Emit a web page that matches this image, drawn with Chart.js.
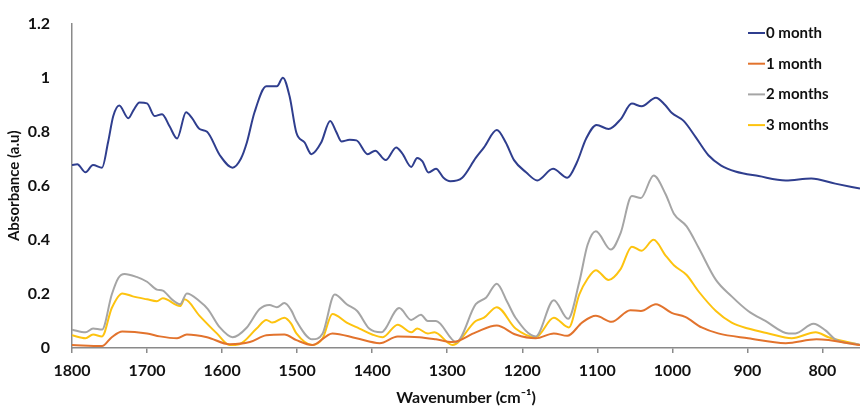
<!DOCTYPE html>
<html>
<head>
<meta charset="utf-8">
<script src="https://cdn.jsdelivr.net/npm/chart.js@4.4.1/dist/chart.umd.min.js"></script>
<style>
  html, body { margin: 0; padding: 0; background: #fff; }
  #wrap { width: 860px; height: 410px; }
</style>
</head>
<body>
<div id="wrap"><canvas id="ftirChart"></canvas></div>
<script>
// FTIR spectra (wavenumber cm-1, absorbance)
const seriesNames = ['0 month', '1 month', '2 months', '3 months'];
const seriesColors = ['#2f3e8e', '#e2732d', '#a5a5a5', '#fdc30f'];

const month0Wn = [1800, 1793, 1782, 1772, 1760, 1752, 1745, 1737, 1725, 1718, 1710, 1700, 1690, 1680, 1670, 1660, 1648, 1640, 1630, 1620, 1603, 1586, 1575, 1567, 1557, 1541, 1527, 1519, 1510, 1501, 1490, 1481, 1468, 1456, 1448, 1441, 1430, 1421, 1406, 1396, 1382, 1368, 1360, 1348, 1340, 1333, 1325, 1315, 1305, 1296, 1280, 1262, 1251, 1234, 1222, 1211, 1195, 1180, 1159, 1140, 1127, 1115, 1101, 1085, 1069, 1054, 1041, 1022, 1010, 1001, 985, 969, 952, 935, 916, 885, 849, 815, 783, 750];
const month0Abs = [0.677, 0.68, 0.65, 0.677, 0.667, 0.76, 0.858, 0.897, 0.85, 0.88, 0.908, 0.905, 0.858, 0.865, 0.82, 0.775, 0.872, 0.85, 0.81, 0.80, 0.713, 0.667, 0.70, 0.76, 0.87, 0.968, 0.968, 1.0, 0.93, 0.796, 0.76, 0.717, 0.76, 0.84, 0.80, 0.764, 0.77, 0.768, 0.717, 0.73, 0.695, 0.742, 0.72, 0.67, 0.703, 0.69, 0.649, 0.663, 0.63, 0.617, 0.63, 0.703, 0.742, 0.806, 0.76, 0.695, 0.65, 0.62, 0.663, 0.63, 0.688, 0.774, 0.825, 0.81, 0.846, 0.904, 0.894, 0.926, 0.90, 0.87, 0.84, 0.78, 0.713, 0.675, 0.653, 0.636, 0.62, 0.627, 0.608, 0.59];

const month1Wn = [1800, 1760, 1747, 1733, 1700, 1683, 1660, 1647, 1620, 1590, 1563, 1541, 1517, 1501, 1480, 1453, 1421, 1390, 1366, 1337, 1315, 1293, 1262, 1234, 1209, 1182, 1158, 1140, 1120, 1102, 1081, 1056, 1042, 1022, 1001, 983, 961, 939, 899, 849, 808, 750];
const month1Abs = [0.011, 0.007, 0.04, 0.061, 0.054, 0.043, 0.036, 0.05, 0.04, 0.014, 0.022, 0.047, 0.05, 0.029, 0.011, 0.054, 0.036, 0.018, 0.043, 0.04, 0.032, 0.022, 0.058, 0.083, 0.05, 0.036, 0.054, 0.045, 0.095, 0.119, 0.097, 0.14, 0.137, 0.162, 0.13, 0.115, 0.076, 0.054, 0.036, 0.018, 0.032, 0.011];

const month2Wn = [1800, 1782, 1772, 1760, 1747, 1738, 1730, 1714, 1700, 1687, 1679, 1667, 1656, 1647, 1630, 1619, 1603, 1586, 1567, 1550, 1537, 1527, 1517, 1508, 1501, 1480, 1466, 1450, 1434, 1420, 1404, 1388, 1364, 1348, 1335, 1326, 1315, 1288, 1262, 1248, 1234, 1220, 1209, 1182, 1158, 1139, 1124, 1113, 1102, 1082, 1069, 1054, 1042, 1025, 1009, 998, 981, 965, 942, 921, 899, 876, 845, 836, 812, 796, 783, 750];
const month2Abs = [0.068, 0.058, 0.072, 0.068, 0.198, 0.26, 0.274, 0.263, 0.245, 0.216, 0.212, 0.18, 0.162, 0.202, 0.173, 0.144, 0.076, 0.04, 0.076, 0.144, 0.159, 0.151, 0.166, 0.14, 0.1, 0.032, 0.054, 0.198, 0.162, 0.137, 0.072, 0.058, 0.148, 0.104, 0.123, 0.1, 0.1, 0.022, 0.162, 0.187, 0.238, 0.17, 0.112, 0.043, 0.177, 0.108, 0.245, 0.382, 0.432, 0.364, 0.425, 0.562, 0.555, 0.638, 0.569, 0.497, 0.45, 0.371, 0.252, 0.191, 0.137, 0.1, 0.054, 0.054, 0.09, 0.065, 0.032, 0.012];

const month3Wn = [1800, 1782, 1772, 1760, 1747, 1733, 1719, 1700, 1687, 1679, 1656, 1650, 1630, 1607, 1590, 1577, 1554, 1541, 1533, 1517, 1508, 1501, 1480, 1466, 1453, 1434, 1417, 1400, 1386, 1366, 1348, 1340, 1326, 1317, 1293, 1262, 1251, 1234, 1209, 1182, 1158, 1138, 1124, 1113, 1102, 1085, 1069, 1054, 1041, 1025, 1009, 998, 981, 965, 942, 921, 899, 872, 841, 809, 792, 750];
const month3Abs = [0.047, 0.036, 0.05, 0.043, 0.148, 0.202, 0.191, 0.18, 0.173, 0.184, 0.155, 0.18, 0.119, 0.054, 0.011, 0.014, 0.072, 0.104, 0.094, 0.112, 0.09, 0.054, 0.011, 0.036, 0.126, 0.094, 0.072, 0.05, 0.04, 0.086, 0.058, 0.072, 0.054, 0.058, 0.011, 0.1, 0.112, 0.151, 0.072, 0.04, 0.112, 0.076, 0.198, 0.256, 0.288, 0.252, 0.292, 0.375, 0.36, 0.40, 0.342, 0.306, 0.27, 0.209, 0.137, 0.094, 0.072, 0.054, 0.036, 0.058, 0.04, 0.011];

const xTicks = [1800, 1700, 1600, 1500, 1400, 1300, 1200, 1100, 1000, 900, 800];
const yTicks = [0, 0.2, 0.4, 0.6, 0.8, 1, 1.2];

const allWn = [month0Wn, month1Wn, month2Wn, month3Wn];
const allAbs = [month0Abs, month1Abs, month2Abs, month3Abs];

const FONT = 'Lato, "Open Sans", sans-serif';

// legend drawn inside the plot, top right, like the original figure
const insideLegend = {
    id: 'insideLegend',
    afterDraw(chart) {
        const ctx = chart.ctx;
        ctx.save();
        ctx.font = 'bold 15px ' + FONT;
        ctx.textBaseline = 'middle';
        ctx.textAlign = 'left';
        chart.data.datasets.forEach((ds, i) => {
            const y = 33 + i * 30.7;
            ctx.strokeStyle = ds.borderColor;
            ctx.lineWidth = 2;
            ctx.beginPath();
            ctx.moveTo(748, y);
            ctx.lineTo(765, y);
            ctx.stroke();
            ctx.fillStyle = '#111';
            ctx.fillText(ds.label, 766, y);
        });
        ctx.restore();
    }
};

const ctx = document.getElementById('ftirChart').getContext('2d');
new Chart(ctx, {
    type: 'line',
    data: {
        datasets: seriesNames.map((name, i) => ({
            label: name,
            data: allWn[i].map((w, k) => ({ x: w, y: allAbs[i][k] })),
            borderColor: seriesColors[i],
            backgroundColor: seriesColors[i],
            borderWidth: 2,
            pointRadius: 0,
            fill: false,
            cubicInterpolationMode: 'monotone'
        }))
    },
    options: {
        responsive: true,
        maintainAspectRatio: false,
        animation: false,
        layout: { padding: { top: 15, right: 0, left: 0, bottom: 0 } },
        plugins: {
            legend: { display: false },
            tooltip: { enabled: false }
        },
        scales: {
            x: {
                type: 'linear',
                reverse: true,
                min: 750,
                max: 1800,
                afterBuildTicks: (scale) => { scale.ticks = xTicks.map(v => ({ value: v })); },
                afterFit: (scale) => { scale.height = 62; },
                grid: { display: true, drawOnChartArea: false, drawTicks: true, tickLength: 5, color: '#8a8a8a', lineWidth: 1.5 },
                border: { display: true, color: '#8a8a8a', width: 1.5 },
                ticks: {
                    color: '#111', padding: 8, maxRotation: 0,
                    font: { family: FONT, size: 16, weight: 'bold' },
                    callback: (v) => String(v)
                },
                title: {
                    display: true,
                    text: 'Wavenumber (cm⁻¹)',
                    color: '#111',
                    padding: { top: 0, bottom: 3 },
                    font: { family: FONT, size: 16, weight: 'bold' }
                }
            },
            y: {
                min: 0,
                max: 1.2,
                afterBuildTicks: (scale) => { scale.ticks = yTicks.map(v => ({ value: v })); },
                afterFit: (scale) => { scale.width = 72; },
                grid: { display: false },
                border: { display: true, color: '#8a8a8a', width: 1.5 },
                ticks: {
                    color: '#111', padding: 14,
                    font: { family: FONT, size: 16, weight: 'bold' },
                    callback: (v) => String(v)
                },
                title: {
                    display: true,
                    text: 'Absorbance (a.u)',
                    color: '#111',
                    padding: { top: 5, bottom: 0 },
                    font: { family: FONT, size: 15, weight: 'bold' }
                }
            }
        }
    },
    plugins: [insideLegend]
});
</script>
</body>
</html>
